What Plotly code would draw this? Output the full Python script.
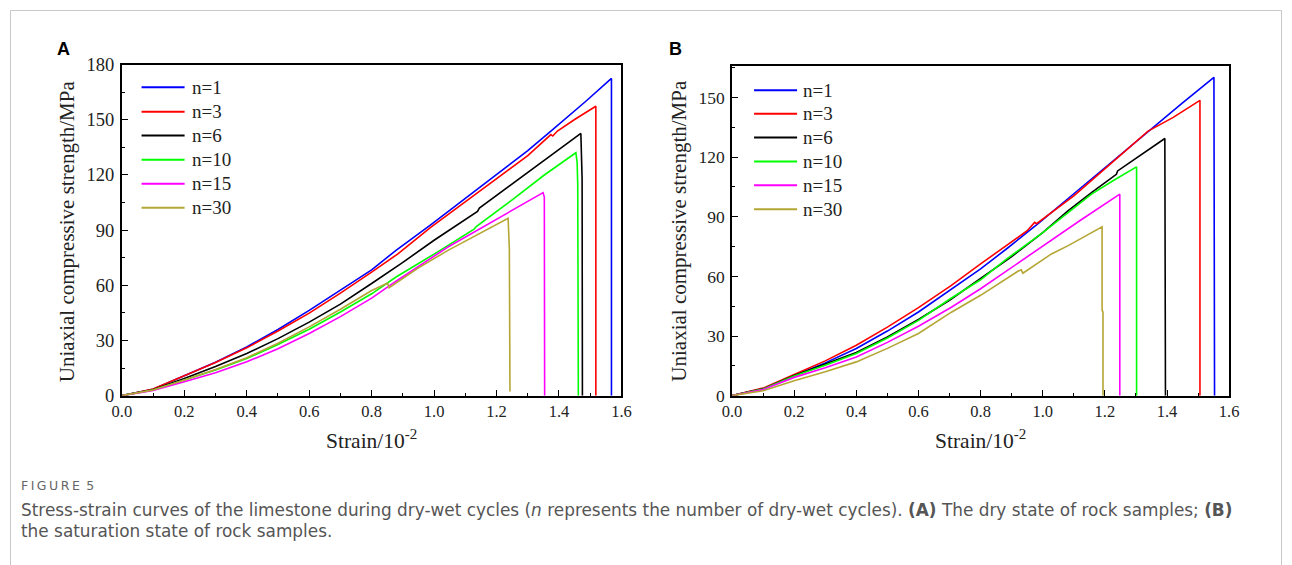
import plotly.graph_objects as go

# Figure size, and the measured mapping from figure pixels to the photographed picture
W, H = 1292, 565
SX, OX = 0.9837, 9.56    # picture_x = SX * fig_x + OX
SY, OY = 0.9687, 8.4     # picture_y = SY * fig_y + OY

series_names = ["n=1", "n=3", "n=6", "n=10", "n=15", "n=30"]
series_colors = ["#0000FF", "#FF0000", "#000000", "#00FF00", "#FF00FF", "#B4A634"]

x_ticks = [0.0, 0.2, 0.4, 0.6, 0.8, 1.0, 1.2, 1.4, 1.6]
yA_ticks = [0, 30, 60, 90, 120, 150, 180]
yB_ticks = [0, 30, 60, 90, 120, 150]

# ---------------- Panel A: dry state ----------------
A_n1_strain = [0, 0.1, 0.2, 0.3, 0.4, 0.5, 0.6, 0.7, 0.8, 0.877, 0.989, 1.1, 1.2, 1.3, 1.374, 1.486, 1.568, 1.568]
A_n1_stress = [0, 3.5, 10.8, 18.2, 26.5, 36.0, 46.4, 57.3, 68.4, 78.9, 92.9, 107.3, 120.3, 133.3, 143.9, 160.1, 172.5, 0]

A_n3_strain = [0, 0.1, 0.2, 0.3, 0.4, 0.5, 0.6, 0.7, 0.8, 0.883, 0.989, 1.1, 1.2, 1.3, 1.374, 1.38, 1.395, 1.45, 1.518, 1.518]
A_n3_stress = [0, 3.6, 10.8, 18.0, 26.0, 35.2, 44.9, 55.8, 67.2, 77.0, 91.5, 105.5, 118.0, 130.5, 142.0, 141.2, 143.9, 150.2, 157.4, 0]

A_n6_strain = [0, 0.1, 0.2, 0.3, 0.4, 0.5, 0.6, 0.7, 0.8, 0.9, 1.0, 1.139, 1.145, 1.25, 1.353, 1.47, 1.474, 1.475]
A_n6_stress = [0, 3.2, 9.4, 15.8, 22.9, 31.0, 40.0, 49.8, 61.0, 72.5, 84.5, 100.2, 102.0, 115.0, 128.0, 142.6, 118.0, 0]

A_n10_strain = [0, 0.1, 0.2, 0.3, 0.4, 0.5, 0.6, 0.7, 0.8, 0.877, 1.0, 1.128, 1.135, 1.25, 1.353, 1.454, 1.458, 1.46, 1.462]
A_n10_stress = [0, 3.1, 8.5, 14.0, 20.2, 27.8, 36.1, 45.5, 55.4, 64.4, 77.0, 90.5, 92.0, 106.5, 120.0, 132.1, 127.0, 115.0, 0]

A_n15_strain = [0, 0.1, 0.2, 0.3, 0.4, 0.5, 0.6, 0.7, 0.8, 0.877, 1.043, 1.15, 1.25, 1.349, 1.353, 1.354]
A_n15_stress = [0, 2.8, 7.6, 12.5, 18.4, 25.5, 33.8, 43.0, 53.0, 62.1, 80.7, 91.0, 100.8, 110.4, 108.0, 0]

A_n30_strain = [0, 0.1, 0.2, 0.3, 0.4, 0.5, 0.6, 0.7, 0.8, 0.851, 0.856, 0.95, 1.043, 1.14, 1.237, 1.241, 1.243, 1.243]
A_n30_stress = [0, 3.1, 8.5, 14.2, 20.6, 28.5, 37.4, 47.0, 57.2, 61.2, 58.7, 69.5, 78.9, 87.5, 96.4, 80.0, 40.0, 2.2]

# ---------------- Panel B: saturated state ----------------
B_n1_strain = [0, 0.1, 0.2, 0.3, 0.4, 0.5, 0.6, 0.706, 0.8, 0.883, 0.99, 1.1, 1.2, 1.339, 1.45, 1.551, 1.553]
B_n1_stress = [0, 3.5, 10.0, 16.5, 23.7, 32.5, 42.1, 53.8, 63.8, 73.8, 87.2, 101.6, 114.7, 133.1, 147.3, 160.2, 0]

B_n3_strain = [0, 0.1, 0.2, 0.3, 0.4, 0.5, 0.6, 0.706, 0.8, 0.883, 0.95, 0.974, 0.98, 1.1, 1.21, 1.318, 1.339, 1.42, 1.506, 1.506]
B_n3_stress = [0, 3.8, 10.7, 17.5, 25.4, 34.5, 44.3, 55.5, 66.3, 75.5, 83.0, 87.2, 86.5, 100.5, 115.6, 130.1, 133.1, 140.0, 148.6, 0]

B_n6_strain = [0, 0.1, 0.2, 0.3, 0.4, 0.5, 0.6, 0.7, 0.8, 0.9, 1.0, 1.081, 1.16, 1.237, 1.241, 1.32, 1.393, 1.395]
B_n6_stress = [0, 3.4, 10.1, 15.8, 21.7, 29.5, 38.3, 48.0, 58.8, 70.0, 82.0, 93.0, 102.5, 111.4, 113.1, 121.5, 129.4, 0]

B_n10_strain = [0, 0.1, 0.2, 0.3, 0.4, 0.5, 0.6, 0.7, 0.8, 0.877, 1.0, 1.081, 1.157, 1.23, 1.302, 1.302]
B_n10_stress = [0, 3.3, 9.9, 15.3, 21.2, 29.0, 37.9, 48.5, 58.3, 68.0, 82.0, 92.0, 101.4, 108.5, 115.1, 0]

B_n15_strain = [0, 0.1, 0.2, 0.3, 0.4, 0.5, 0.6, 0.706, 0.8, 0.931, 1.119, 1.248, 1.248]
B_n15_stress = [0, 3.1, 9.2, 14.0, 19.5, 26.8, 34.9, 44.5, 53.8, 68.0, 88.0, 101.4, 0]

B_n30_strain = [0, 0.1, 0.2, 0.3, 0.4, 0.5, 0.6, 0.706, 0.8, 0.883, 0.92, 0.931, 0.936, 1.028, 1.082, 1.191, 1.191, 1.194, 1.194]
B_n30_stress = [0, 2.5, 7.5, 12.0, 17.0, 23.8, 31.3, 42.0, 50.5, 59.0, 62.6, 63.3, 61.6, 71.3, 75.5, 85.0, 43.0, 42.0, 0]

A_strains = [A_n1_strain, A_n3_strain, A_n6_strain, A_n10_strain, A_n15_strain, A_n30_strain]
A_stresses = [A_n1_stress, A_n3_stress, A_n6_stress, A_n10_stress, A_n15_stress, A_n30_stress]
B_strains = [B_n1_strain, B_n3_strain, B_n6_strain, B_n10_strain, B_n15_strain, B_n30_strain]
B_stresses = [B_n1_stress, B_n3_stress, B_n6_stress, B_n10_stress, B_n15_stress, B_n30_stress]


def fx(px):
    """picture x pixel -> paper fraction"""
    return ((px - OX) / SX) / W


def fy(py):
    """picture y pixel (from top) -> paper fraction"""
    return 1 - ((py - OY) / SY) / H


SERIF = "Liberation Serif, Times New Roman, serif"
fig = go.Figure()

for name, color, xs, ys in zip(series_names, series_colors, A_strains, A_stresses):
    fig.add_trace(go.Scatter(x=xs, y=ys, mode="lines", name=name, showlegend=False,
                             line=dict(color=color, width=1.6), xaxis="x", yaxis="y"))
for name, color, xs, ys in zip(series_names, series_colors, B_strains, B_stresses):
    fig.add_trace(go.Scatter(x=xs, y=ys, mode="lines", name=name, showlegend=False,
                             line=dict(color=color, width=1.6), xaxis="x2", yaxis="y2"))

axis_common = dict(showgrid=False, zeroline=False, showline=True, mirror=True,
                   linecolor="black", linewidth=1.6, ticks="inside", ticklen=6,
                   tickwidth=1.4, tickcolor="black")

xfont = dict(family=SERIF, size=16.5, color="#222")
fig.update_layout(
    xaxis=dict(domain=[fx(121.3), fx(620.5)], range=[0, 1.6], anchor="y",
               tickvals=x_ticks, ticktext=[f"{v:.1f}" for v in x_ticks], tickfont=xfont,
               minor=dict(ticks="inside", ticklen=3, dtick=0.1, tickwidth=1.2, tickcolor="black"),
               **axis_common),
    yaxis=dict(domain=[fy(395.7), fy(63.3)], range=[0, 180], anchor="x",
               tickvals=yA_ticks, ticktext=[str(v) for v in yA_ticks],
               tickfont=dict(family=SERIF, size=18.5, color="#222"), ticklabelstandoff=2,
               minor=dict(ticks="inside", ticklen=3, dtick=15, tickwidth=1.2, tickcolor="black"),
               **axis_common),
    xaxis2=dict(domain=[fx(731), fx(1227.7)], range=[0, 1.6], anchor="y2",
                tickvals=x_ticks, ticktext=[f"{v:.1f}" for v in x_ticks], tickfont=xfont,
                minor=dict(ticks="inside", ticklen=3, dtick=0.1, tickwidth=1.2, tickcolor="black"),
                **axis_common),
    yaxis2=dict(domain=[fy(395.7), fy(65)], range=[0, 165.7], anchor="x2",
                tickvals=yB_ticks, ticktext=[str(v) for v in yB_ticks],
                tickfont=dict(family=SERIF, size=17.5, color="#222"), ticklabelstandoff=2,
                minor=dict(ticks="inside", ticklen=3, dtick=15, tickwidth=1.2, tickcolor="black"),
                **axis_common),
)

shapes = []
annotations = []

# outer frame of the figure card (kept inside the drawable area)
shapes.append(dict(type="rect", xref="paper", yref="paper",
                   x0=max(fx(6.5), 0.5 / W), x1=min(fx(1285.5), 1 - 0.5 / W),
                   y0=-0.2, y1=min(fy(5.5), 1 - 0.5 / H),
                   line=dict(color="#c8c8c8", width=1), layer="below"))

# manual legends
legend_A = dict(x0=141, x1=184, tx=189, rows=[86, 110.5, 134.5, 158.7, 183, 207])
legend_B = dict(x0=753, x1=796, tx=800, rows=[89, 112.5, 136.5, 160.5, 184.5, 208.5])
for lg in (legend_A, legend_B):
    for name, color, ry in zip(series_names, series_colors, lg["rows"]):
        shapes.append(dict(type="line", xref="paper", yref="paper",
                           x0=fx(lg["x0"]), x1=fx(lg["x1"]), y0=fy(ry), y1=fy(ry),
                           line=dict(color=color, width=2)))
        annotations.append(dict(text=name, xref="paper", yref="paper", x=fx(lg["tx"]), y=fy(ry),
                                xanchor="left", yanchor="middle", showarrow=False,
                                font=dict(family=SERIF, size=19, color="#222")))

# panel letters
for letter, px in (("A", 63), ("B", 675)):
    annotations.append(dict(text=f"<b>{letter}</b>", xref="paper", yref="paper", x=fx(px), y=fy(48),
                            xanchor="center", yanchor="middle", showarrow=False,
                            font=dict(family="Liberation Sans, Arial, sans-serif", size=18, color="black")))

# axis titles
for cx in (371, 979):
    annotations.append(dict(text="Strain/10<sup>-2</sup>", xref="paper", yref="paper", x=fx(cx), y=fy(440),
                            xanchor="center", yanchor="middle", showarrow=False,
                            font=dict(family=SERIF, size=21.5, color="#222")))
for cx in (66, 678):
    annotations.append(dict(text="Uniaxial compressive strength/MPa", xref="paper", yref="paper",
                            x=fx(cx), y=fy(230), xanchor="center", yanchor="middle", textangle=-90,
                            showarrow=False, font=dict(family=SERIF, size=21, color="#222")))

# caption
CAP = "DejaVu Sans, Noto Sans, sans-serif"
annotations.append(dict(text="F\u2009I\u2009G\u2009U\u2009R\u2009E\u2009 5", xref="paper", yref="paper",
                        x=fx(19), y=fy(486), xanchor="left", yanchor="middle", showarrow=False,
                        font=dict(family=CAP, size=12.5, color="#666666")))
annotations.append(dict(text="Stress-strain curves of the limestone during dry-wet cycles (<i>n</i> represents the number of dry-wet cycles). <b>(A)</b> The dry state of rock samples; <b>(B)</b>",
                        xref="paper", yref="paper", x=fx(19), y=fy(511), xanchor="left", yanchor="middle",
                        showarrow=False, font=dict(family=CAP, size=16.9, color="#555555")))
annotations.append(dict(text="the saturation state of rock samples.",
                        xref="paper", yref="paper", x=fx(19), y=fy(532), xanchor="left", yanchor="middle",
                        showarrow=False, font=dict(family=CAP, size=16.9, color="#555555")))

fig.update_layout(width=W, height=H, margin=dict(l=0, r=0, t=0, b=0),
                  paper_bgcolor="white", plot_bgcolor="white",
                  shapes=shapes, annotations=annotations, showlegend=False)

fig.write_html("out.html")
